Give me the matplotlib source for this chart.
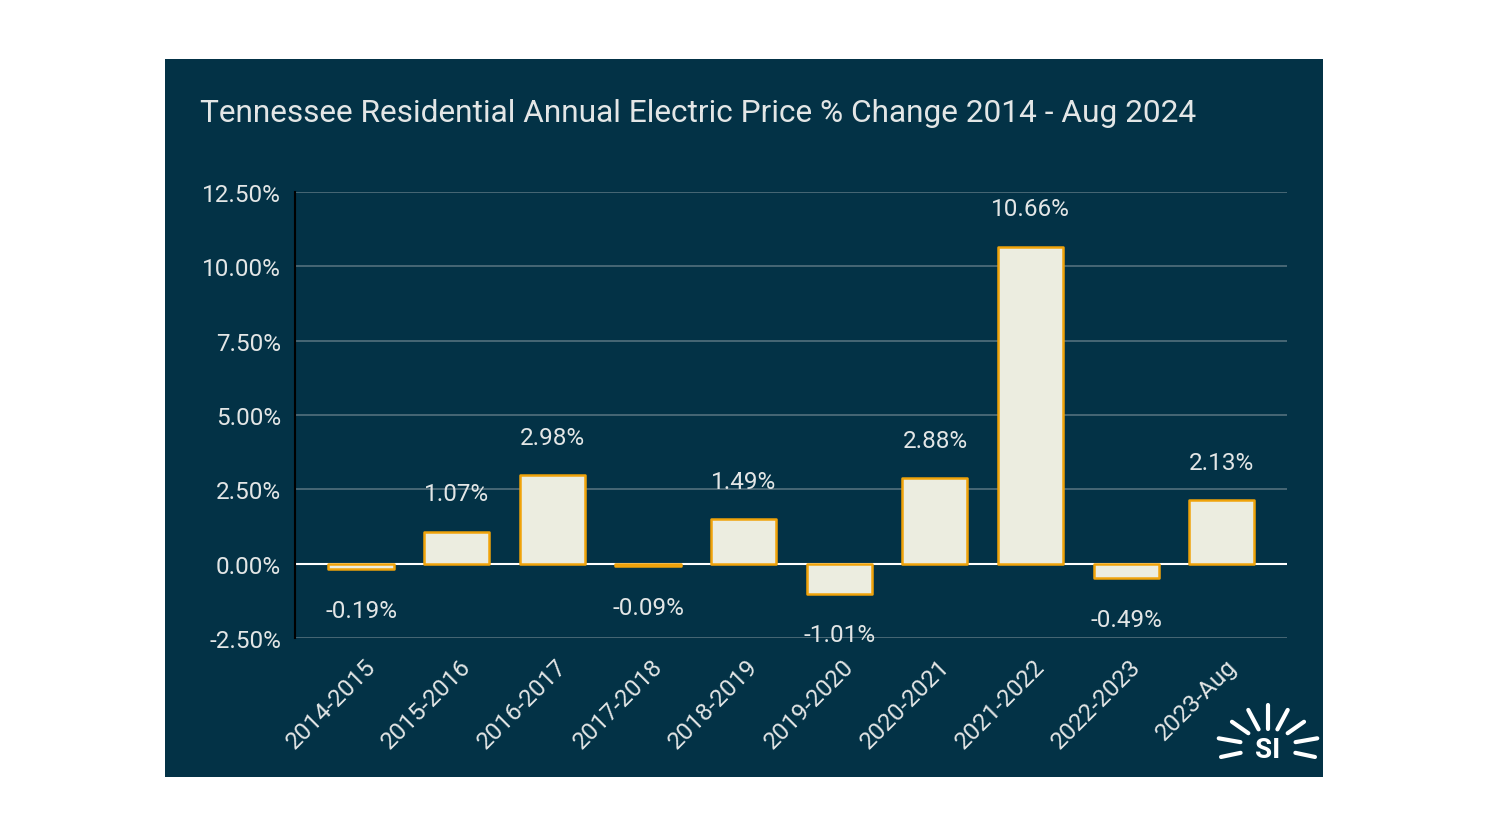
import numpy as np
import matplotlib
matplotlib.use("Agg")
import matplotlib.pyplot as plt
from matplotlib.patches import Rectangle
from matplotlib.ticker import FuncFormatter

# data
periods = ["2014-2015", "2015-2016", "2016-2017", "2017-2018", "2018-2019",
           "2019-2020", "2020-2021", "2021-2022", "2022-2023", "2023-Aug"]
pct_change = [-0.19, 1.07, 2.98, -0.09, 1.49, -1.01, 2.88, 10.66, -0.49, 2.13]
y_ticks = [-2.5, 0, 2.5, 5, 7.5, 10, 12.5]

BG = "#033246"
TXT = "#e3e6e6"
GRID = "#4d6b78"
FILL = "#ecede0"
EDGE = "#f0a30a"

plt.rcParams['font.family'] = ['Roboto', 'DejaVu Sans']

fig = plt.figure(figsize=(14.88, 8.37), dpi=100)
fig.patch.set_facecolor("white")
fig.patches.append(Rectangle((165 / 1488, 1 - 778 / 837), (1323 - 165) / 1488, (778 - 60) / 837,
                             transform=fig.transFigure, facecolor=BG, edgecolor="none", zorder=-10))

ax = fig.add_axes([295 / 1488, 1 - 639 / 837, (1287 - 295) / 1488, (639 - 193) / 837])
ax.set_facecolor("none")

x = np.arange(len(periods))
ax.bar(x, pct_change, width=0.68, color=FILL, edgecolor=EDGE, linewidth=1.8, zorder=3,
       joinstyle="round")

for xi, v in zip(x, pct_change):
    off = 38 if v >= 0 else -41
    ax.annotate(f"{v:.2f}%", (xi, v), xytext=(0, off), textcoords="offset pixels",
                ha="center", va="center", color=TXT, fontsize=17.5, zorder=4)

ax.set_ylim(-2.5, 12.5)
ax.set_xlim(-0.69, 9.68)
ax.set_yticks(y_ticks)
ax.yaxis.set_major_formatter(FuncFormatter(lambda v, p: f"{v:.2f}%"))
ax.grid(axis="y", color=GRID, linewidth=1.3, zorder=1)
ax.axhline(0, color="white", linewidth=1.5, zorder=2)

ax.set_xticks(x + 0.03)
ax.set_xticklabels(periods, rotation=45, ha="right", rotation_mode="anchor")

ax.tick_params(axis="both", length=0, colors=TXT, labelsize=17.5)
ax.tick_params(axis="y", pad=10)
ax.tick_params(axis="x", pad=12)
for s in ["top", "right", "bottom"]:
    ax.spines[s].set_visible(False)
ax.spines["left"].set_color("black")
ax.spines["left"].set_linewidth(1.5)

fig.text(200 / 1488, 1 - 114 / 837, "Tennessee Residential Annual Electric Price % Change 2014 - Aug 2024",
         color=TXT, fontsize=22.8, ha="left", va="center")

# logo
cx, cy = 1268, 748
fig.text(cx / 1488, 1 - (cy + 3) / 837, "SI", color="white", fontsize=20, fontweight="bold",
         ha="center", va="center")
rays = [(90, 18, 42), (62, 20, 42), (118, 20, 42), (35, 24, 44), (145, 24, 44),
        (10, 28, 50), (170, 28, 50), (-12, 28, 48), (192, 28, 48)]
for ang, r0, r1 in rays:
    a = np.deg2rad(ang)
    xs = [cx + r0 * np.cos(a), cx + r1 * np.cos(a)]
    ys = [cy - r0 * np.sin(a), cy - r1 * np.sin(a)]
    fig.lines.append(plt.Line2D([v / 1488 for v in xs], [1 - v / 837 for v in ys],
                                transform=fig.transFigure, color="white", linewidth=3,
                                solid_capstyle="round"))

fig.savefig("out.png", dpi=100, facecolor="white")
